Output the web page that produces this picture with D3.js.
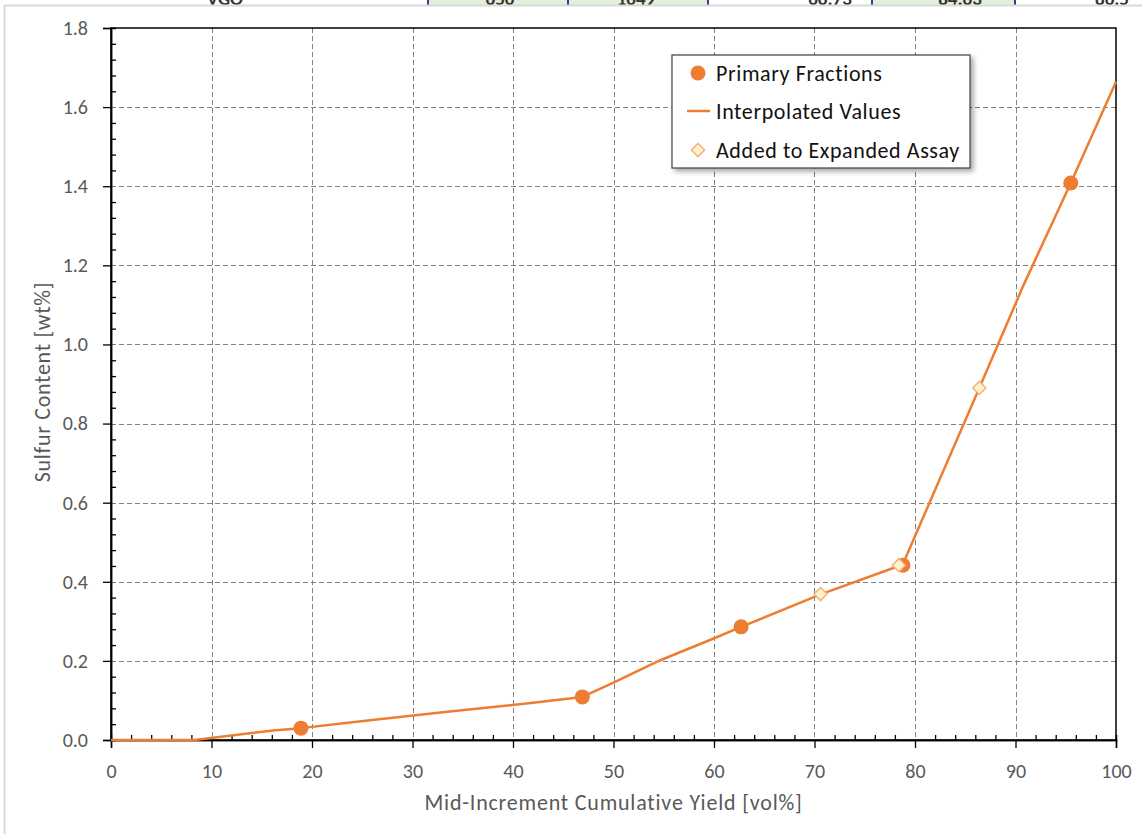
<!DOCTYPE html>
<html><head><meta charset="utf-8">
<script src="https://cdn.jsdelivr.net/npm/d3@7"></script>
<style>
html,body{margin:0;padding:0;background:#fff;}
svg{display:block;}
text{font-family:Carlito,Lato,"Liberation Sans",sans-serif;}
</style></head>
<body>
<svg id="chart" width="1142" height="834"></svg>
<script>
// ---- data ----
const primaryX = [18.9, 46.9, 62.7, 78.8, 95.5];
const primaryY = [0.030, 0.109, 0.286, 0.442, 1.408];
const addedX = [70.6, 78.4, 86.4];
const addedY = [0.369, 0.442, 0.890];
const interpX = [0, 8.3, 16.1, 18.9, 25.1, 33.7, 42.0, 46.9, 50.0, 54.6, 59.9, 62.7, 70.6, 78.4, 78.8, 86.4, 90.8, 95.5, 100];
const interpY = [0, 0, 0.024, 0.030, 0.048, 0.072, 0.094, 0.109, 0.145, 0.201, 0.256, 0.286, 0.368, 0.440, 0.445, 0.890, 1.150, 1.408, 1.664];
const xTicks = [0, 10, 20, 30, 40, 50, 60, 70, 80, 90, 100];
const yTicks = [0, 0.2, 0.4, 0.6, 0.8, 1.0, 1.2, 1.4, 1.6, 1.8];
const legendLabels = ["Primary Fractions", "Interpolated Values", "Added to Expanded Assay"];
const tableTexts = ["VGO", "650", "1049", "66.73", "84.63", "86.5"];
const tableTextX = [225, 500, 636, 830, 960, 1112];
const xTitle = "Mid-Increment Cumulative Yield [vol%]";
const yTitle = "Sulfur Content [wt%]";

const ORANGE = "#ED7D31";
const svg = d3.select("#chart");

// filter for legend shadow
const defs = svg.append("defs");
const f = defs.append("filter").attr("id","sh").attr("x","-10%").attr("y","-10%").attr("width","130%").attr("height","140%");
f.append("feDropShadow").attr("dx",3).attr("dy",3).attr("stdDeviation",2.5).attr("flood-color","#000").attr("flood-opacity",0.35);
defs.append("clipPath").attr("id","topclip").append("rect").attr("x",0).attr("y",0).attr("width",1142).attr("height",5);

// ---- cut-off spreadsheet strip at top ----
const strip = svg.append("g");
strip.append("rect").attr("x",0).attr("y",0).attr("width",1142).attr("height",5).attr("fill","#fff");
[[428,568],[568,708],[872,1015]].forEach(c=>{
  strip.append("rect").attr("x",c[0]).attr("y",0).attr("width",c[1]-c[0]).attr("height",5).attr("fill","#E2EFDA");
});
[428,568,708,872,1015].forEach(xx=>{
  strip.append("rect").attr("x",xx-1).attr("y",0).attr("width",2).attr("height",5).attr("fill","#2F3F8F");
});
strip.append("g").attr("clip-path","url(#topclip)").selectAll("text").data(tableTexts).join("text")
  .attr("x",(d,i)=>tableTextX[i]).attr("y",5).attr("text-anchor","middle")
  .attr("font-size",19).attr("font-weight","bold").attr("fill","#333").text(d=>d);

// chart area border
svg.append("rect").attr("x",4.5).attr("y",5.5).attr("width",1150).attr("height",840)
  .attr("fill","#fff").attr("stroke","#d9d9d9").attr("stroke-width",2);

// ---- scales ----
const pL = 111, pR = 1116, pT = 28, pB = 740;
const x = d3.scaleLinear().domain([0,100]).range([pL,pR]);
const y = d3.scaleLinear().domain([0,1.8]).range([pB,pT]);

// grid
const grid = svg.append("g");
grid.selectAll("line.gx").data(xTicks.slice(1,-1)).join("line")
  .attr("x1",d=>Math.round(x(d))+0.5).attr("x2",d=>Math.round(x(d))+0.5).attr("y1",pT).attr("y2",pB)
  .attr("stroke","#808080").attr("stroke-width",1).attr("stroke-dasharray","5,3");
grid.selectAll("line.gy").data(yTicks.slice(1,-1)).join("line")
  .attr("y1",d=>Math.round(y(d))+0.5).attr("y2",d=>Math.round(y(d))+0.5).attr("x1",pL).attr("x2",pR)
  .attr("stroke","#808080").attr("stroke-width",1).attr("stroke-dasharray","5,3");

// plot border
svg.append("rect").attr("x",pL).attr("y",pT).attr("width",pR-pL).attr("height",pB-pT)
  .attr("fill","none").attr("stroke","#000").attr("stroke-width",1.5);

// axes: major outward, minor inward
const minorX = d3.range(0,101,2).filter(v=>v%10!==0);
const minorY = d3.range(0,1.8001,0.04).filter(v=>Math.abs(v*5-Math.round(v*5))>1e-6);

const xAxis = svg.append("g").attr("transform",`translate(0,${pB})`)
  .call(d3.axisBottom(x).tickValues(xTicks).tickSize(8).tickPadding(16).tickFormat(d3.format("d")));
const xMinor = svg.append("g").attr("transform",`translate(0,${pB})`)
  .call(d3.axisTop(x).tickValues(minorX).tickSize(5).tickFormat(""));
const yAxis = svg.append("g").attr("transform",`translate(${pL},0)`)
  .call(d3.axisLeft(y).tickValues(yTicks).tickSize(8).tickPadding(15).tickFormat(d3.format(".1f")));
const yMinor = svg.append("g").attr("transform",`translate(${pL},0)`)
  .call(d3.axisRight(y).tickValues(minorY).tickSize(5).tickFormat(""));
[xAxis,xMinor,yAxis,yMinor].forEach(g=>{
  g.select(".domain").attr("stroke","#000").attr("stroke-width",1.5);
  g.selectAll(".tick line").attr("stroke","#000").attr("stroke-width",1.3);
  g.selectAll(".tick text").attr("font-family","Carlito,Lato,'Liberation Sans',sans-serif")
   .attr("font-size",20).attr("fill","#595959");
});

// axis titles
svg.append("text").attr("x",(pL+pR)/2).attr("y",810).attr("text-anchor","middle")
  .attr("font-size",22).attr("letter-spacing","0.8px").attr("fill","#595959").text(xTitle);
svg.append("text").attr("transform",`translate(50,${(pT+pB)/2 - 2}) rotate(-90)`).attr("text-anchor","middle")
  .attr("font-size",22).attr("letter-spacing","0.7px").attr("fill","#595959").text(yTitle);

// ---- series ----
const lineData = interpX.map((v,i)=>[v,interpY[i]]);
svg.append("path").datum(lineData)
  .attr("d",d3.line().x(d=>x(d[0])).y(d=>y(d[1])))
  .attr("fill","none").attr("stroke",ORANGE).attr("stroke-width",2.5).attr("stroke-linejoin","round");

svg.append("g").selectAll("circle").data(primaryX.map((v,i)=>[v,primaryY[i]])).join("circle")
  .attr("cx",d=>x(d[0])).attr("cy",d=>y(d[1])).attr("r",7.5).attr("fill",ORANGE);

const diamond = d3.symbol().type(d3.symbolDiamond2).size(110);
svg.append("g").selectAll("path").data(addedX.map((v,i)=>[v,addedY[i]])).join("path")
  .attr("transform",d=>`translate(${x(d[0])},${y(d[1])})`)
  .attr("d",diamond).attr("fill","#FFF2CC").attr("stroke","#F4B183").attr("stroke-width",1.5);

// ---- legend ----
const lg = svg.append("g").attr("transform","translate(672,55)");
lg.append("rect").attr("width",298).attr("height",113).attr("fill","#fff")
  .attr("stroke","#404040").attr("stroke-width",1.2).attr("filter","url(#sh)");
const rowsY = [18, 56, 95];
lg.append("circle").attr("cx",26).attr("cy",rowsY[0]).attr("r",7.5).attr("fill",ORANGE);
lg.append("line").attr("x1",15).attr("x2",38).attr("y1",rowsY[1]).attr("y2",rowsY[1]).attr("stroke",ORANGE).attr("stroke-width",2.5);
lg.append("path").attr("transform",`translate(26,${rowsY[2]})`).attr("d",diamond)
  .attr("fill","#FFF2CC").attr("stroke","#F4B183").attr("stroke-width",1.5);
lg.selectAll("text").data(legendLabels).join("text")
  .attr("x",44).attr("y",(d,i)=>rowsY[i]).attr("dy","0.35em")
  .attr("font-size",22).attr("letter-spacing","0.6px").attr("fill","#111").text(d=>d);
</script>
</body></html>
